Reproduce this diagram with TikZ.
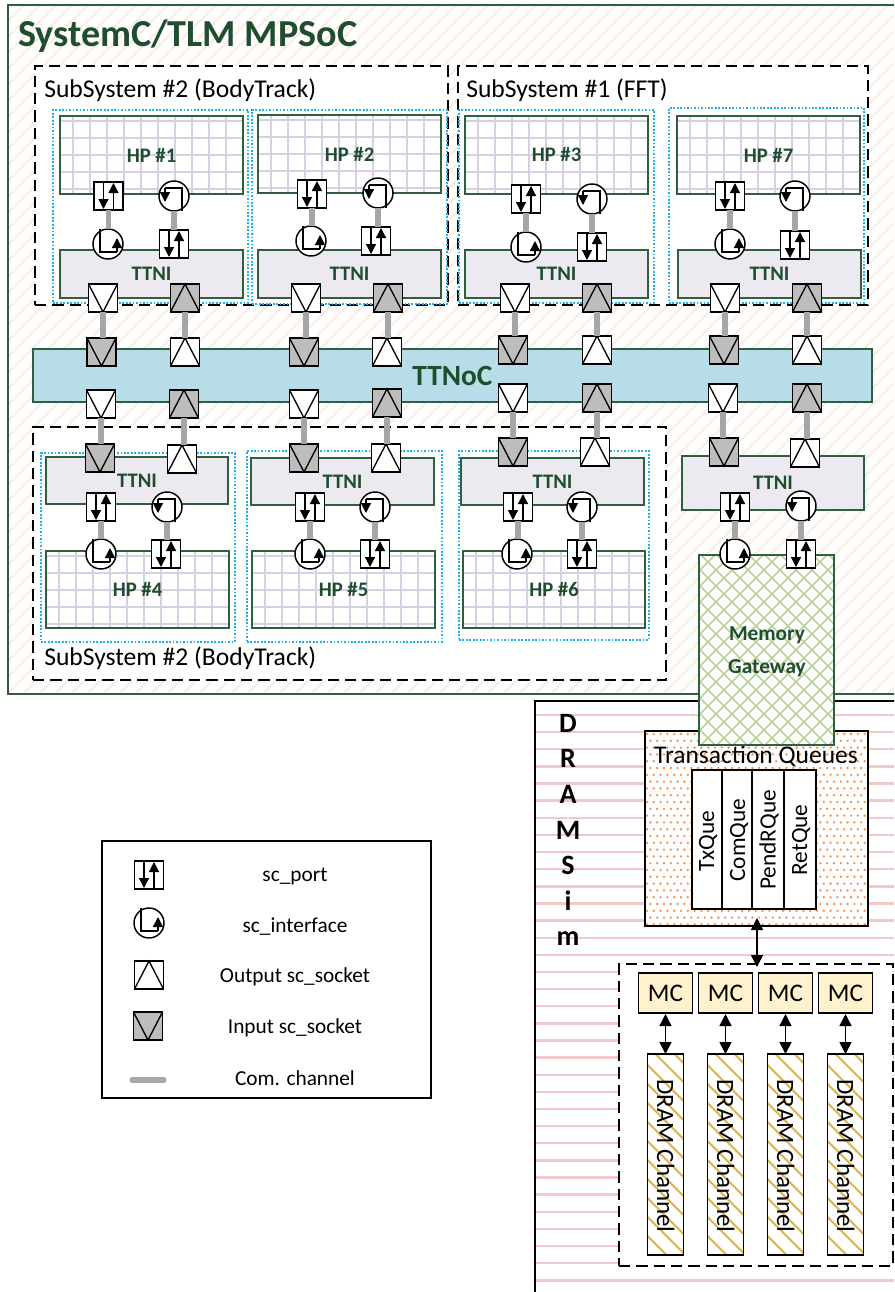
\documentclass[tikz,border=0pt]{standalone}
\usepackage{fontspec}
\setmainfont{Carlito}
\usetikzlibrary{arrows.meta}
\definecolor{dgreen}{HTML}{1F4E2F}
\definecolor{fgreen}{HTML}{2F5F3F}
\definecolor{skyb}{HTML}{1FB0E8}
\definecolor{peach}{HTML}{FCEADB}
\definecolor{gridp}{HTML}{D6D0E4}
\definecolor{ttnif}{HTML}{ECE9F1}
\definecolor{nocf}{HTML}{B7DDE8}
\definecolor{gchan}{HTML}{A6A6A6}
\definecolor{gsock}{HTML}{BDBDBD}
\definecolor{lgreen}{HTML}{B9D296}
\definecolor{pinkl}{HTML}{F2C8C8}
\definecolor{odot}{HTML}{F4914A}
\definecolor{mcf}{HTML}{FFF2CC}
\definecolor{goldh}{HTML}{D9B44A}
\tikzset{
  x=0.75pt,y=-0.75pt,
  blk/.style={draw=black,line width=1.1pt},
  chan/.style={draw=gchan,line width=3.9pt},
  biarrow/.style={draw=black,line width=1.1pt,{Triangle[length=9pt,width=9pt]}-{Triangle[length=9pt,width=9pt]}},
  tip/.style={draw=black,line width=1pt,-{Triangle[length=7.5pt,width=7.5pt]}},
  glyph/.style={draw=black,line width=1pt},
  greenbox/.style={draw=fgreen,line width=1.1pt},
  dashbox/.style={draw=black,line width=1.1pt,dash pattern=on 8.5pt off 4.5pt},
  dotbox/.style={draw=skyb,line width=1.1pt,dash pattern=on 1.3pt off 1.3pt},
  boxlabel/.style={text=dgreen,font=\bfseries\fontsize{15.5}{18}\selectfont},
  sublabel/.style={text=black,font=\fontsize{19.2}{22}\selectfont,anchor=west,inner sep=0},
  leglabel/.style={text=black,font=\fontsize{16}{18}\selectfont,inner sep=0},
  qlabel/.style={text=black,font=\fontsize{17.5}{20}\selectfont,inner sep=0},
  chlabel/.style={text=black,font=\fontsize{18.7}{21}\selectfont,inner sep=0},
  sq/.style={rectangle,blk,inner sep=0,outer sep=0,minimum width=21.75pt,minimum height=21pt},
  circ/.style={circle,blk,fill=white,inner sep=0,outer sep=0,minimum size=22.5pt},
}
% rectangle node given by corners
\newcommand{\bx}[7][]{%
  \pgfmathsetmacro\cx{(#3+#5)/2}\pgfmathsetmacro\cy{(#4+#6)/2}%
  \pgfmathsetmacro\bw{(#5-#3)*0.75}\pgfmathsetmacro\bh{(#6-#4)*0.75}%
  \node[rectangle,inner sep=0,outer sep=0,minimum width=\bw pt,minimum height=\bh pt,#1] (#2) at (\cx,\cy) {#7};}
% hatching: x1 y1 x2 y2 spacing style
\newcommand{\fwdhatch}[6]{\begin{scope}\clip (#1,#2) rectangle (#3,#4);
  \pgfmathsetmacro\hh{#4-#2}\pgfmathsetmacro\st{#1-\hh}\pgfmathsetmacro\nx{\st+#5}
  \foreach \xx in {\st,\nx,...,#3} \draw[#6] (\xx,#4) -- ++(\hh,-\hh);\end{scope}}
\newcommand{\backhatch}[6]{\begin{scope}\clip (#1,#2) rectangle (#3,#4);
  \pgfmathsetmacro\hh{#4-#2}\pgfmathsetmacro\st{#1-\hh}\pgfmathsetmacro\nx{\st+#5}
  \foreach \xx in {\st,\nx,...,#3} \draw[#6] (\xx,#2) -- ++(\hh,\hh);\end{scope}}
% grid box
\newcommand{\gridbox}[6]{\fill[white] (#2,#3) rectangle (#4,#5);
  \begin{scope}\clip (#2,#3) rectangle (#4,#5);
  \foreach \kk in {0,...,10} \draw[gridp,line width=1.5pt] ({#2+12.7+17*\kk},#3) -- ++(0,90);
  \foreach \kk in {0,...,4} \draw[gridp,line width=1.5pt] (#2,{#3+4.6+17*\kk}) -- ++(190,0);
  \end{scope}
  \bx[greenbox,boxlabel]{#1}{#2}{#3}{#4}{#5}{\raisebox{-0.8pt}{#6}}}
\newcommand{\ttni}[5]{\bx[greenbox,fill=ttnif,boxlabel]{#1}{#2}{#3}{#4}{#5}{\raisebox{-0.8pt}{TTNI}}}
% glyph nodes
\newcommand{\portg}[3]{\node[sq,fill=white] (#1) at (#2,#3) {};
  \begin{scope}[shift={(#2,#3)}]
  \draw[tip] (-5,-14) -- (-5,13);
  \draw[tip] (5,14) -- (5,-13);
  \end{scope}}
\newcommand{\ifaceg}[4]{\node[circ] (#1) at (#2,#3) {};
  \begin{scope}[shift={(#2,#3)},rotate=#4]
  \draw[glyph] (-8,-15) -- (-8,8) -- (9,8);
  \draw[tip] (9,8) -- (9,-6);
  \end{scope}}
\newcommand{\sockv}[4]{\node[sq,fill=#4] (#1) at (#2,#3) {};
  \begin{scope}[shift={(#2,#3)}]\draw[glyph] (-14.5,-14) -- (0,14) -- (14.5,-14);\end{scope}}
\newcommand{\socka}[4]{\node[sq,fill=#4] (#1) at (#2,#3) {};
  \begin{scope}[shift={(#2,#3)}]\draw[glyph] (-14.5,14) -- (0,-14) -- (14.5,14);\end{scope}}
% processing element connections
\newcommand{\core}[9]{\portg{#1p}{#2}{#3}\ifaceg{#1i}{#4}{#5}{180}\ifaceg{#1j}{#6}{#7}{0}\portg{#1q}{#8}{#9}
  \draw[chan] (#1p.south) -- (#1p.south |- #1j.north);
  \draw[chan] (#1i.south) -- (#1i.south |- #1q.north);}
\newcommand{\linkdn}[2]{\draw[chan] (#1.south) -- (#1.south |- #2.north);}
\begin{document}
\begin{tikzpicture}
\clip (0,0) rectangle (894,1292);
\fill[white] (0,0) rectangle (894,1292);
% outer frame
\fwdhatch{8}{5}{900}{694}{16}{peach,line width=1.4pt}
\bx[greenbox]{mpsoc}{8}{5}{900}{694}{}
\node[text=dgreen,font=\bfseries\fontsize{28.6}{33}\selectfont,anchor=west,inner sep=0] (title) at (18,36) {SystemC/TLM MPSoC};
% subsystems
\bx[dashbox,fill=white]{subA}{35}{66}{448}{305}{}
\bx[dashbox,fill=white]{subB}{458}{66}{868}{305}{}
\bx[dashbox,fill=white]{subC}{33}{427}{666}{680}{}
\node[sublabel] (subAl) at (44,90) {SubSystem \#2 (BodyTrack)};
\node[sublabel] (subBl) at (466,90) {SubSystem \#1 (FFT)};
\node[sublabel] (subCl) at (44,658) {SubSystem \#2 (BodyTrack)};
% dotted tiles
\bx[dotbox]{tA}{53}{110}{248}{303}{}
\bx[dotbox]{tB}{252}{110}{447}{304}{}
\bx[dotbox]{tC}{459}{110}{654}{303}{}
\bx[dotbox]{tD}{669}{108}{864}{303}{}
\bx[dotbox]{tE}{41}{453}{235}{642}{}
\bx[dotbox]{tF}{247}{451}{442}{642}{}
\bx[dotbox]{tG}{459}{451}{649}{640}{}
% TTNoC
\bx[greenbox,fill=nocf,text=dgreen,font=\bfseries\fontsize{22}{25}\selectfont]{noc}{33}{349}{872}{402}{TTNoC}
% top row
\gridbox{hpA}{60}{116}{243}{194}{HP \#1}
\gridbox{hpB}{258}{115}{441}{193}{HP \#2}
\gridbox{hpC}{465}{116}{648}{194}{HP \#3}
\gridbox{hpD}{677}{116}{860}{194}{HP \#7}
\ttni{niA}{60}{250}{243}{298}
\ttni{niB}{258}{250}{441}{298}
\ttni{niC}{465}{250}{648}{298}
\ttni{niD}{678}{250}{861}{298}
\core{cA}{108.5}{196}{174}{196}{108}{244}{174}{244}
\core{cB}{312}{194}{378}{193}{311}{241}{376}{241}
\core{cC}{526}{199}{592}{199}{526}{247}{592}{247}
\core{cD}{730}{196}{795}{196}{730}{244}{795}{245}
% bottom row
\gridbox{hpE}{46}{551}{229}{628}{HP \#4}
\gridbox{hpF}{252}{551}{435}{628}{HP \#5}
\gridbox{hpG}{463}{551}{645}{628}{HP \#6}
\ttni{niE}{46}{457}{228}{504}
\ttni{niF}{251}{458}{434}{505}
\ttni{niG}{461}{458}{644}{505}
\ttni{niH}{682}{456}{864}{510}
\core{cE}{101}{507}{167}{507}{101}{554}{166}{554}
\core{cF}{310}{507}{375}{507}{310}{554}{375}{554}
\core{cG}{518}{507}{582}{507}{517}{554}{582}{554}
% DRAMSim
\bx[draw=black,line width=1.1pt,fill=white]{dram}{535}{701}{900}{1300}{}
\begin{scope}
\clip (536,702) rectangle (900,1300);
\foreach \kk in {0,...,34} \draw[pinkl,line width=1.8pt] (536,{715+17.13*\kk}) -- ++(364,0);
\end{scope}
\node[align=center,inner sep=0,font=\bfseries\fontsize{21}{26.7}\selectfont] (dramt) at (568,830) {D\\R\\A\\M\\S\\i\\m};
% transaction queues
\fill[white] (645,731) rectangle (868,926);
\begin{scope}
\clip (645,731) rectangle (868,926);
\foreach \rr in {0,...,28} \foreach \ss in {0,...,33} {
  \pgfmathsetmacro\dx{mod(\rr,2)*3.4}
  \fill[odot] ({647+6.8*\ss+\dx},{734+6.8*\rr}) circle[radius=1.3];}
\end{scope}
\bx[blk]{tq}{645}{731}{868}{926}{}
\node[font=\fontsize{19.1}{22}\selectfont,inner sep=0] (tqt) at (756,756) {Transaction Queues};
\bx[blk,fill=white]{qa}{692}{770}{722}{909}{}
\bx[blk,fill=white]{qb}{722}{770}{752}{909}{}
\bx[blk,fill=white]{qc}{752}{770}{784}{909}{}
\bx[blk,fill=white]{qd}{784}{770}{816}{909}{}
\node[qlabel,rotate=90] (qat) at (708,841) {TxQue};
\node[qlabel,rotate=90] (qbt) at (739,840) {ComQue};
\node[qlabel,rotate=90] (qct) at (769,840) {PendRQue};
\node[qlabel,rotate=90] (qdt) at (801,840) {RetQue};
% MC group
\bx[dashbox,fill=white]{mcg}{619}{964}{893}{1266}{}
\coordinate (tqb) at (757,918);
\coordinate (mct) at (757,967);
\draw[biarrow] (tqb) -- (mct);
\bx[blk,fill=mcf,font=\fontsize{19}{22}\selectfont]{mcA}{638.5}{973}{692.5}{1013}{MC}
\bx[blk,fill=mcf,font=\fontsize{19}{22}\selectfont]{mcB}{698.5}{973}{752.5}{1013}{MC}
\bx[blk,fill=mcf,font=\fontsize{19}{22}\selectfont]{mcC}{758.5}{973}{812.5}{1013}{MC}
\bx[blk,fill=mcf,font=\fontsize{19}{22}\selectfont]{mcD}{818.5}{973}{872.5}{1013}{MC}
\foreach \nm/\xa in {A/647.5,B/707.5,C/767.5,D/827.5}{
  \pgfmathsetmacro\xb{\xa+36}
  \fill[white] (\xa,1054) rectangle (\xb,1255);
  \backhatch{\xa}{1054}{\xb}{1255}{19}{goldh,line width=1.4pt}
  \bx[blk]{ch\nm}{\xa}{1054}{\xb}{1255}{}
  \pgfmathsetmacro\xc{\xa+18.3}
  \node[chlabel,rotate=-90] (cht\nm) at (\xc,1156) {DRAM Channel};
}
\draw[biarrow] (mcA.south -| chA.north) ++(0,1) -- (chA.north);
\draw[biarrow] (mcB.south -| chB.north) ++(0,1) -- (chB.north);
\draw[biarrow] (mcC.south -| chC.north) ++(0,1) -- (chC.north);
\draw[biarrow] (mcD.south -| chD.north) ++(0,1) -- (chD.north);
% memory gateway
\fill[white] (699,555) rectangle (834,745);
\fwdhatch{699}{555}{834}{745}{16}{lgreen,line width=1.3pt}
\backhatch{699}{555}{834}{745}{16}{lgreen,line width=1.3pt}
\bx[greenbox]{gw}{699}{555}{834}{745}{}
\node[text=dgreen,align=center,inner sep=0,font=\bfseries\fontsize{16}{24.75}\selectfont] (gwt) at (767,651.5) {Memory\\Gateway};
\core{cH}{735}{507}{801}{506}{735}{554}{801}{554}
% sockets: top tiles
\sockv{sA}{103}{298}{white}\socka{sB}{185}{298}{gsock}
\sockv{sC}{306}{298}{white}\socka{sD}{388}{298}{gsock}
\sockv{sE}{515}{298}{white}\socka{sF}{597}{298}{gsock}
\sockv{sG}{725}{298}{white}\socka{sH}{807}{298}{gsock}
% sockets: noc top
\sockv{nA}{101.5}{352}{gsock}\socka{nB}{185}{352}{white}
\sockv{nC}{304}{352}{gsock}\socka{nD}{387}{352}{white}
\sockv{nE}{513}{350}{gsock}\socka{nF}{597}{350}{white}
\sockv{nG}{724}{350}{gsock}\socka{nH}{807}{350}{white}
% sockets: noc bottom
\sockv{mA}{101}{404}{white}\socka{mB}{184}{404}{gsock}
\sockv{mC}{304}{404}{white}\socka{mD}{387}{403}{gsock}
\sockv{mE}{513}{398}{white}\socka{mF}{597}{398}{gsock}
\sockv{mG}{723}{398}{white}\socka{mH}{807}{398}{gsock}
% sockets: bottom tiles
\sockv{bA}{100}{458}{gsock}\socka{bB}{182}{459}{white}
\sockv{bC}{304}{458}{gsock}\socka{bD}{386}{458}{white}
\sockv{bE}{513}{452}{gsock}\socka{bF}{595}{452}{white}
\sockv{bG}{724}{452}{gsock}\socka{bH}{805}{453}{white}
\foreach \u/\v in {sA/nA,sB/nB,sC/nC,sD/nD,sE/nE,sF/nF,sG/nG,sH/nH,mA/bA,mB/bB,mC/bC,mD/bD,mE/bE,mF/bF,mG/bG,mH/bH}{\linkdn{\u}{\v}}
% legend
\bx[blk,fill=white]{leg}{102}{841}{431}{1098}{}
\portg{lA}{149}{875}
\ifaceg{lB}{149}{923}{0}
\socka{lC}{149}{975}{white}
\sockv{lD}{148}{1026}{gsock}
\coordinate (lEa) at (132,1080);
\coordinate (lEb) at (164,1080);
\draw[chan,line cap=round] (lEa) -- (lEb);
\node[leglabel] (ltA) at (295,876) {sc\_port};
\node[leglabel] (ltB) at (295,927) {sc\_interface};
\node[leglabel] (ltC) at (295,977) {Output sc\_socket};
\node[leglabel] (ltD) at (295,1028) {Input sc\_socket};
\node[leglabel] (ltE) at (295,1078) {Com. channel};
\end{tikzpicture}
\end{document}
